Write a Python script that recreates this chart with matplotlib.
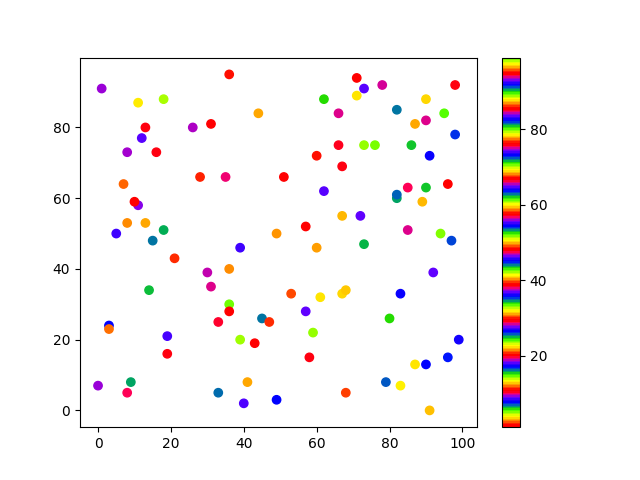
import matplotlib
matplotlib.use("Agg")
import matplotlib.pyplot as plt

x = [1, 11, 18, 13, 26, 31, 12, 8, 16, 7,
     28, 36, 62, 44, 66, 66, 60, 67, 35, 51,
     71, 73, 78, 98, 71, 90, 82, 95, 87, 90,
     98, 73, 76, 86, 91, 11, 10, 8, 13, 18,
     5, 15, 21, 30, 31, 14, 62, 67, 57, 49,
     39, 60, 36, 53, 61, 67, 68, 85, 90, 96,
     82, 82, 89, 72, 85, 94, 97, 73, 92, 83,
     3, 3, 19, 19, 33, 0, 9, 8, 33, 36,
     36, 45, 47, 57, 39, 43, 59, 58, 41, 40,
     49, 68, 80, 99, 87, 90, 96, 79, 83, 91]

y = [91, 87, 88, 80, 80, 81, 77, 73, 73, 64,
     66, 95, 88, 84, 84, 75, 72, 69, 66, 66,
     94, 91, 92, 92, 89, 88, 85, 84, 81, 82,
     78, 75, 75, 75, 72, 58, 59, 53, 53, 51,
     50, 48, 43, 39, 35, 34, 62, 55, 52, 50,
     46, 46, 40, 33, 32, 33, 34, 63, 63, 64,
     60, 61, 59, 55, 51, 50, 48, 47, 39, 33,
     24, 23, 21, 16, 25, 7, 8, 5, 5, 30,
     28, 26, 25, 28, 20, 19, 22, 15, 8, 2,
     3, 5, 26, 20, 13, 13, 15, 8, 7, 0]

c = [9.21, 12.96, 23.42, 29.13, 46.58, 47.99, 64.68, 74.81, 76.02, 86.43,
     2.03, 11.08, 24.68, 30.86, 47.04, 56.94, 57.97, 75.70, 84.69, 94.45,
     1.56, 17.88, 28.34, 29.13, 40.85, 50.09, 62.66, 99.00, 77.66, 93.93,
     7.33, 14.04, 23.84, 34.05, 45.17, 65.24, 1.00, 68.06, 77.90, 90.28,
     8.41, 16.10, 20.79, 37.66, 47.28, 52.77, 64.77, 68.38, 85.26, 87.13,
     8.41, 12.11, 21.49, 30.16, 40.95, 50.33, 59.24, 75.56, 80.80, 85.54,
     15.77, 7.00, 21.73, 36.63, 47.23, 51.55, 63.18, 71.53, 83.62, 91.87,
     7.66, 12.02, 27.17, 29.13, 38.51, 56.10, 62.33, 75.37, 81.41, 89.06,
     1.00, 16.29, 20.79, 36.63, 42.17, 47.89, 61.02, 75.70, 77.90, 92.81,
     7.66, 11.41, 24.73, 36.07, 41.09, 54.55, 63.60, 72.56, 78.60, 87.28]

fig = plt.figure(figsize=(6.4, 4.8), dpi=100)
sc = plt.scatter(x, y, c=c, cmap="prism")
plt.colorbar(sc)
fig.savefig("out.png")
